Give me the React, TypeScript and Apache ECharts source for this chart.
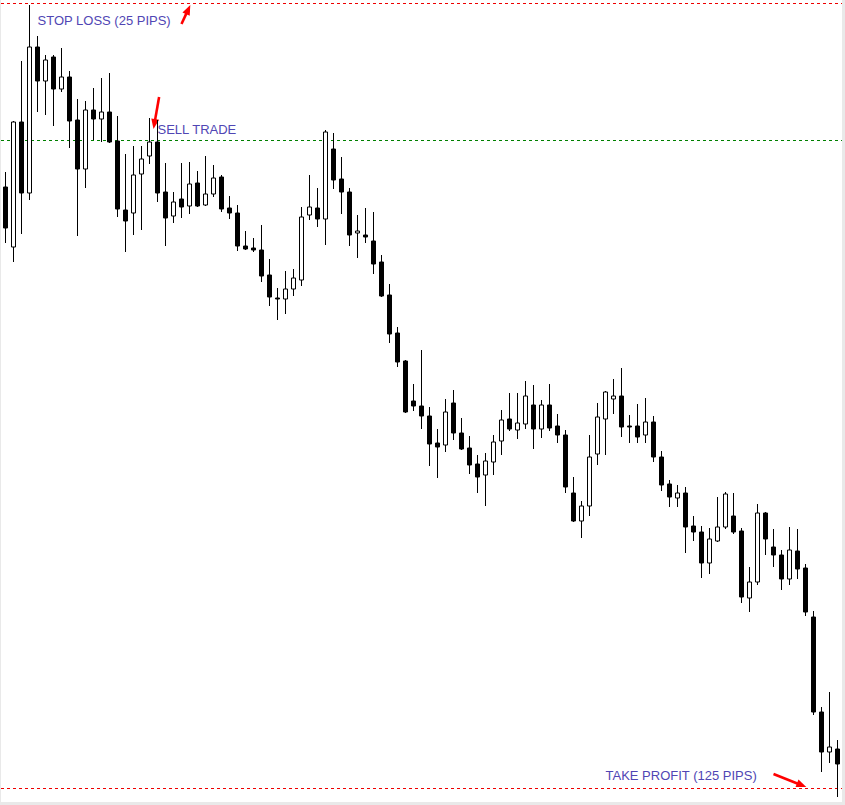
import React, { useEffect, useRef } from "react";
import * as echarts from "echarts";

// Candle values (price, 5 decimals)
const opens = [
  1.30626, 1.30506, 1.30756, 1.30614, 1.30906, 1.30838, 1.30886, 1.30822, 1.30846, 1.30760,
  1.30662, 1.30780, 1.30762, 1.30776, 1.30718, 1.30580, 1.30574, 1.30652, 1.30688, 1.30716,
  1.30616, 1.30568, 1.30602, 1.30588, 1.30634, 1.30590, 1.30612, 1.30646, 1.30584, 1.30574,
  1.30508, 1.30504, 1.30500, 1.30450, 1.30404, 1.30402, 1.30422, 1.30440, 1.30570, 1.30584,
  1.30562, 1.30702, 1.30642, 1.30616, 1.30534, 1.30530, 1.30518, 1.30476, 1.30410, 1.30334,
  1.30278, 1.30198, 1.30188, 1.30168, 1.30114, 1.30110, 1.30194, 1.30134, 1.30104, 1.30072,
  1.30050, 1.30076, 1.30118, 1.30162, 1.30140, 1.30152, 1.30190, 1.30142, 1.30190, 1.30148,
  1.30130, 1.30014, 1.29958, 1.29988, 1.30092, 1.30162, 1.30202, 1.30208, 1.30148, 1.30148,
  1.30130, 1.30156, 1.30086, 1.30032, 1.30004, 1.30014, 1.29948, 1.29936, 1.29874, 1.29918,
  1.29946, 1.29968, 1.29938, 1.29804, 1.29836, 1.29974, 1.29906, 1.29890, 1.29842, 1.29898,
  1.29864, 1.29766, 1.29576, 1.29496, 1.29502,
];
const closes = [
  1.30544, 1.30756, 1.30614, 1.30906, 1.30838, 1.30880, 1.30822, 1.30846, 1.30758, 1.30662,
  1.30780, 1.30762, 1.30776, 1.30716, 1.30582, 1.30558, 1.30650, 1.30682, 1.30716, 1.30614,
  1.30564, 1.30596, 1.30586, 1.30632, 1.30588, 1.30612, 1.30644, 1.30582, 1.30574, 1.30508,
  1.30502, 1.30500, 1.30448, 1.30406, 1.30402, 1.30422, 1.30444, 1.30566, 1.30586, 1.30562,
  1.30736, 1.30640, 1.30616, 1.30530, 1.30538, 1.30526, 1.30472, 1.30408, 1.30332, 1.30276,
  1.30176, 1.30188, 1.30168, 1.30112, 1.30106, 1.30176, 1.30134, 1.30102, 1.30070, 1.30046,
  1.30078, 1.30116, 1.30160, 1.30142, 1.30154, 1.30208, 1.30142, 1.30190, 1.30144, 1.30130,
  1.30026, 1.29958, 1.29988, 1.30086, 1.30166, 1.30216, 1.30208, 1.30146, 1.30146, 1.30126,
  1.30156, 1.30086, 1.30030, 1.30006, 1.30014, 1.29946, 1.29936, 1.29874, 1.29922, 1.29946,
  1.30012, 1.29936, 1.29806, 1.29836, 1.29974, 1.29922, 1.29890, 1.29842, 1.29900, 1.29862,
  1.29776, 1.29576, 1.29496, 1.29506, 1.29472,
];
const lows = [
  1.30514, 1.30476, 1.30532, 1.30600, 1.30776, 1.30770, 1.30748, 1.30816, 1.30704, 1.30528,
  1.30624, 1.30720, 1.30716, 1.30714, 1.30566, 1.30496, 1.30530, 1.30540, 1.30672, 1.30596,
  1.30508, 1.30554, 1.30564, 1.30572, 1.30586, 1.30588, 1.30606, 1.30576, 1.30562, 1.30498,
  1.30500, 1.30496, 1.30436, 1.30388, 1.30360, 1.30372, 1.30408, 1.30428, 1.30560, 1.30546,
  1.30510, 1.30622, 1.30572, 1.30508, 1.30484, 1.30514, 1.30452, 1.30406, 1.30314, 1.30266,
  1.30174, 1.30178, 1.30142, 1.30068, 1.30044, 1.30096, 1.30120, 1.30100, 1.30052, 1.30014,
  1.29988, 1.30050, 1.30090, 1.30138, 1.30122, 1.30142, 1.30102, 1.30124, 1.30138, 1.30114,
  1.30014, 1.29956, 1.29924, 1.29968, 1.30070, 1.30090, 1.30172, 1.30126, 1.30114, 1.30114,
  1.30114, 1.30076, 1.30018, 1.29986, 1.29986, 1.29894, 1.29918, 1.29844, 1.29852, 1.29916,
  1.29942, 1.29932, 1.29794, 1.29776, 1.29830, 1.29890, 1.29866, 1.29820, 1.29830, 1.29842,
  1.29768, 1.29570, 1.29456, 1.29474, 1.29406,
];
const highs = [
  1.30656, 1.30758, 1.30878, 1.30990, 1.30928, 1.30890, 1.30890, 1.30904, 1.30858, 1.30802,
  1.30798, 1.30824, 1.30844, 1.30854, 1.30768, 1.30692, 1.30708, 1.30708, 1.30764, 1.30760,
  1.30674, 1.30616, 1.30674, 1.30676, 1.30658, 1.30688, 1.30670, 1.30650, 1.30608, 1.30590,
  1.30538, 1.30524, 1.30550, 1.30482, 1.30424, 1.30458, 1.30462, 1.30586, 1.30650, 1.30624,
  1.30740, 1.30734, 1.30686, 1.30624, 1.30570, 1.30584, 1.30576, 1.30490, 1.30432, 1.30346,
  1.30280, 1.30232, 1.30300, 1.30186, 1.30142, 1.30202, 1.30220, 1.30164, 1.30128, 1.30090,
  1.30094, 1.30130, 1.30180, 1.30214, 1.30214, 1.30238, 1.30230, 1.30200, 1.30232, 1.30172,
  1.30140, 1.30046, 1.29998, 1.30130, 1.30194, 1.30218, 1.30242, 1.30264, 1.30170, 1.30192,
  1.30204, 1.30168, 1.30098, 1.30040, 1.30030, 1.30026, 1.29968, 1.29948, 1.29944, 1.30006,
  1.30016, 1.30014, 1.29944, 1.29866, 1.29992, 1.29976, 1.29942, 1.29900, 1.29946, 1.29942,
  1.29872, 1.29778, 1.29586, 1.29616, 1.29520,
];

// Trade levels
const stopLoss = 1.30993;
const sellEntry = 1.30719;
const takeProfit = 1.29423;
const levelValues = [stopLoss, sellEntry, takeProfit];
const levelColors = ["#ee0000", "#008000", "#ee0000"];

// Text annotations: text, candle index where the text starts, price of its middle
const labelTexts = ["STOP LOSS (25 PIPS)", "SELL TRADE", "TAKE PROFIT (125 PIPS)"];
const labelIndex = [4, 19, 75];
const labelPrice = [1.3096, 1.30742, 1.2945];

// Arrows: tail (index, price) -> tip (index, price)
const arrowFromIndex = [22.0, 19.2, 96.0];
const arrowFromPrice = [1.30952, 1.30806, 1.29452];
const arrowToIndex = [23.1, 18.5, 100.1];
const arrowToPrice = [1.3099, 1.30742, 1.29426];

// Vertical range of the picture
const priceMax = 1.31;
const priceMin = 1.29396;

const categories = opens.map((_, i) => String(i + 1));

export default function App() {
  const ref = useRef<HTMLDivElement>(null);

  useEffect(() => {
    document.body.style.margin = "0";
    if (!ref.current) return;
    const chart = echarts.init(ref.current, undefined, { renderer: "svg" });
    const candleData = opens.map((o, i) => [o, closes[i], lows[i], highs[i]]);
    chart.setOption({
      animation: false,
      backgroundColor: "#ffffff",
      grid: { left: 0.5, right: 0.5, top: 0, bottom: 0 },
      xAxis: {
        type: "category",
        data: categories,
        boundaryGap: true,
        show: false,
      },
      yAxis: {
        type: "value",
        min: priceMin,
        max: priceMax,
        show: false,
        splitLine: { show: false },
      },
      series: [
        {
          type: "candlestick",
          data: candleData,
          barWidth: 5,
          itemStyle: {
            color: "#ffffff",
            color0: "#000000",
            borderColor: "#000000",
            borderColor0: "#000000",
            borderWidth: 1,
          },
        },
      ],
    });

    const px = (idx: number, price: number) => {
      const p0 = chart.convertToPixel({ gridIndex: 0 }, [0, price]) as number[];
      const p1 = chart.convertToPixel({ gridIndex: 0 }, [1, price]) as number[];
      return [p0[0] + (p1[0] - p0[0]) * idx, p0[1]];
    };

    const graphics: any[] = [];
    levelValues.forEach((v, i) => {
      const y = Math.floor(px(0, v)[1]) + 0.5;
      graphics.push({
        type: "line",
        silent: true,
        z: 1,
        shape: { x1: 0, y1: y, x2: 841, y2: y },
        style: { stroke: levelColors[i], lineWidth: 1, lineDash: [3, 3] },
      });
    });
    labelTexts.forEach((t, i) => {
      const [x, y] = px(labelIndex[i], labelPrice[i]);
      graphics.push({
        type: "text",
        x,
        y,
        silent: true,
        style: {
          text: t,
          fill: "#5046b4",
          fontSize: 13,
          fontFamily: '"Liberation Sans", Arial, sans-serif',
          align: "left",
          verticalAlign: "middle",
        },
      });
    });
    arrowFromIndex.forEach((fi, i) => {
      const [x1, y1] = px(fi, arrowFromPrice[i]);
      const [x2, y2] = px(arrowToIndex[i], arrowToPrice[i]);
      const dx = x2 - x1;
      const dy = y2 - y1;
      const len = Math.sqrt(dx * dx + dy * dy) || 1;
      const ux = dx / len;
      const uy = dy / len;
      const headLen = 10;
      const halfW = 4;
      const bx = x2 - ux * headLen;
      const by = y2 - uy * headLen;
      graphics.push({
        type: "line",
        silent: true,
        shape: { x1, y1, x2: bx + ux * 1, y2: by + uy * 1 },
        style: { stroke: "#ff0000", lineWidth: 2.6 },
      });
      graphics.push({
        type: "polygon",
        silent: true,
        shape: {
          points: [
            [x2, y2],
            [bx - uy * halfW, by + ux * halfW],
            [bx + uy * halfW, by - ux * halfW],
          ],
        },
        style: { fill: "#ff0000" },
      });
    });
    chart.setOption({ graphic: graphics });

    return () => {
      chart.dispose();
    };
  }, []);

  return (
    <div style={{ position: "relative", width: 845, height: 805, background: "#e9e9e9" }}>
      <div
        ref={ref}
        style={{ position: "absolute", left: 1, top: 0, width: 841, height: 802, background: "#ffffff" }}
      />
    </div>
  );
}
